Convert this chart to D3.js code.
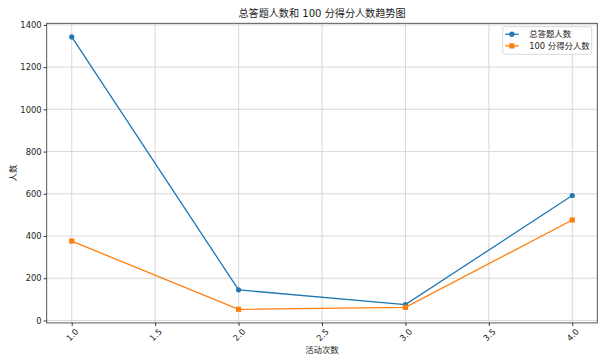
<!DOCTYPE html>
<html>
<head>
<meta charset="utf-8">
<script src="https://cdn.jsdelivr.net/npm/d3@7"></script>
<style>
  body { margin: 0; background: #fff; }
  svg text { font-family: "DejaVu Sans", "Noto Sans CJK SC", sans-serif; fill: #222; }
</style>
</head>
<body>
<div class="chart-js"></div>
<script>
'use strict';

// chart data
var rounds = [1, 2, 3, 4];
var totalCount = [1343, 145, 75, 592];
var fullScoreCount = [376, 53, 62, 476];
var xTicks = [1.0, 1.5, 2.0, 2.5, 3.0, 3.5, 4.0];
var yTicks = [0, 200, 400, 600, 800, 1000, 1200, 1400];
var seriesNames = ['总答题人数', '100 分得分人数'];
var titleText = '总答题人数和 100 分得分人数趋势图';
var xLabelText = '活动次数';
var yLabelText = '人数';

var App = (function() {
function run() {
  var margin = {top: 23.3, right: 9.7, bottom: 41.1, left: 46.7};
  var owidth = 607;
  var oheight = 364;
  var cwidth = owidth - margin.left - margin.right;
  var cheight = oheight - margin.top - margin.bottom;

  // matplotlib style 5% margins
  var xr = d3.extent(rounds);
  var xpad = (xr[1] - xr[0]) * 0.05;
  var allY = totalCount.concat(fullScoreCount);
  var yr = d3.extent(allY);
  var ypad = (yr[1] - yr[0]) * 0.05;

  var xData = d3.scaleLinear()
    .domain([xr[0] - xpad, xr[1] + xpad])
    .range([0, cwidth]);

  var yData = d3.scaleLinear()
    .domain([yr[0] - ypad, yr[1] + ypad])
    .range([cheight, 0]);

  var svg = d3.select('.chart-js').append('svg')
    .attr('width', owidth)
    .attr('height', oheight);

  var chart = svg.append('g')
    .attr('transform', 'translate(' + margin.left + ',' + margin.top + ')');

  // grid
  chart.append('g').selectAll('line.vx')
    .data(xTicks).enter().append('line')
    .attr('x1', function(d) { return xData(d); })
    .attr('x2', function(d) { return xData(d); })
    .attr('y1', 0).attr('y2', cheight)
    .attr('stroke', '#d4d4d4').attr('stroke-width', 0.9);
  chart.append('g').selectAll('line.hy')
    .data(yTicks).enter().append('line')
    .attr('y1', function(d) { return yData(d); })
    .attr('y2', function(d) { return yData(d); })
    .attr('x1', 0).attr('x2', cwidth)
    .attr('stroke', '#d4d4d4').attr('stroke-width', 0.9);

  // axes
  var xAxis = d3.axisBottom(xData)
    .tickValues(xTicks)
    .tickSize(3)
    .tickFormat(d3.format('.1f'));
  var yAxis = d3.axisLeft(yData)
    .tickValues(yTicks)
    .tickSize(3)
    .tickFormat(d3.format('d'));

  var gx = chart.append('g')
    .attr('transform', 'translate(0,' + cheight + ')')
    .call(xAxis);
  gx.select('.domain').remove();
  gx.selectAll('.tick line').attr('stroke', '#333');
  gx.selectAll('.tick text')
    .attr('font-size', 8.4)
    .attr('fill', '#222')
    .attr('y', 0).attr('dy', 0)
    .attr('text-anchor', 'middle')
    .attr('dominant-baseline', 'central')
    .attr('transform', 'translate(0,12) rotate(-45)');

  var gy = chart.append('g').call(yAxis);
  gy.select('.domain').remove();
  gy.selectAll('.tick line').attr('stroke', '#333');
  gy.selectAll('.tick text')
    .attr('font-size', 8.4)
    .attr('fill', '#222')
    .attr('x', -5);

  // frame
  chart.append('rect')
    .attr('width', cwidth).attr('height', cheight)
    .attr('fill', 'none')
    .attr('stroke', '#444').attr('stroke-width', 0.9);

  var series = [
    {name: seriesNames[0], values: totalCount, color: '#1f77b4', marker: 'circle'},
    {name: seriesNames[1], values: fullScoreCount, color: '#ff7f0e', marker: 'square'}
  ];

  var line = d3.line()
    .x(function(d) { return xData(d.x); })
    .y(function(d) { return yData(d.y); });

  series.forEach(function(s) {
    var pts = rounds.map(function(r, i) { return {x: r, y: s.values[i]}; });
    chart.append('path')
      .datum(pts)
      .attr('fill', 'none')
      .attr('stroke', s.color)
      .attr('stroke-width', 1.3)
      .attr('d', line);
    drawMarkers(chart, pts, s, xData, yData);
  });

  // title and labels
  svg.append('text')
    .attr('x', margin.left + cwidth / 2)
    .attr('y', 17)
    .attr('text-anchor', 'middle')
    .attr('font-size', 10.1)
    .text(titleText);
  svg.append('text')
    .attr('x', margin.left + cwidth / 2)
    .attr('y', 353)
    .attr('text-anchor', 'middle')
    .attr('font-size', 8.4)
    .text(xLabelText);
  svg.append('text')
    .attr('transform', 'translate(16,' + (margin.top + cheight / 2) + ') rotate(-90)')
    .attr('text-anchor', 'middle')
    .attr('font-size', 8.4)
    .text(yLabelText);

  // legend
  var lg = svg.append('g').attr('transform', 'translate(502.7,26.7)');
  lg.append('rect')
    .attr('width', 89).attr('height', 27.6)
    .attr('rx', 2)
    .attr('fill', '#fff').attr('fill-opacity', 0.8)
    .attr('stroke', '#d0d0d0').attr('stroke-width', 0.8);
  series.forEach(function(s, i) {
    var row = lg.append('g').attr('transform', 'translate(0,' + (7.5 + i * 11.7) + ')');
    row.append('line')
      .attr('x1', 2.5).attr('x2', 16)
      .attr('stroke', s.color).attr('stroke-width', 1.3);
    drawMarker(row, 9.2, 0, s);
    row.append('text')
      .attr('x', 26.5).attr('y', 0)
      .attr('dominant-baseline', 'central')
      .attr('font-size', 8.4)
      .text(s.name);
  });
}

function drawMarkers(g, pts, s, xData, yData) {
  pts.forEach(function(p) { drawMarker(g, xData(p.x), yData(p.y), s); });
}

function drawMarker(g, cx, cy, s) {
  if (s.marker === 'circle') {
    g.append('circle')
      .attr('cx', cx).attr('cy', cy).attr('r', 2.6)
      .attr('fill', s.color);
  } else {
    g.append('rect')
      .attr('x', cx - 2.6).attr('y', cy - 2.6)
      .attr('width', 5.2).attr('height', 5.2)
      .attr('fill', s.color);
  }
}

return { run: run };
}());
document.addEventListener('DOMContentLoaded', App.run);
</script>
</body>
</html>
